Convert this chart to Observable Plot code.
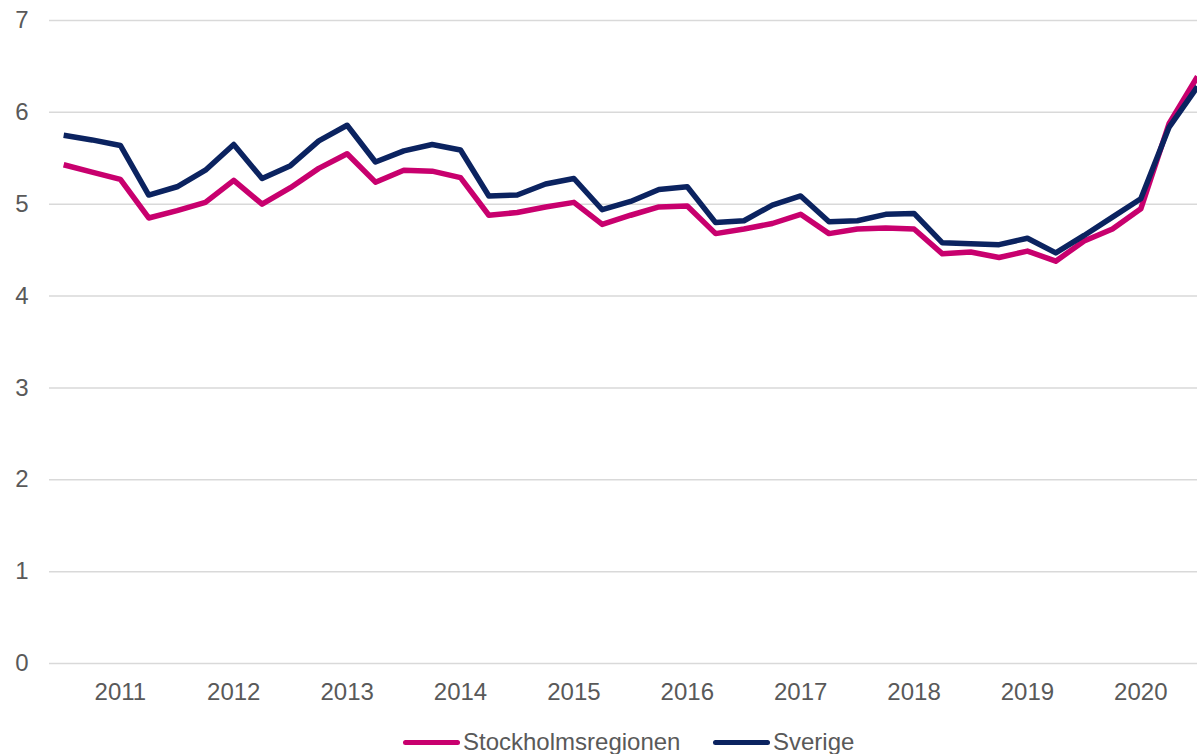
<!DOCTYPE html>
<html>
<head>
<meta charset="utf-8">
<script src="https://cdn.jsdelivr.net/npm/d3@7"></script>
<script src="https://cdn.jsdelivr.net/npm/@observablehq/plot@0.6"></script>
<style>
  html, body { margin: 0; padding: 0; background: #fff; }
  body { width: 1197px; height: 754px; overflow: hidden; font-family: "Liberation Sans", Arial, sans-serif; }
  #legend { position: relative; height: 34px; font-size: 24px; color: #595959; }
  .item { position: absolute; top: 10px; display: flex; align-items: center; line-height: 24px; white-space: nowrap; }
  .sw { width: 57px; height: 5px; border-radius: 3px; margin-right: 3px; }
</style>
</head>
<body>
<div id="chart"></div>
<div id="legend"></div>
<script>
// Quarters 2010K3 .. 2020K3
const quarters = [
  "2010K3","2010K4",
  "2011K1","2011K2","2011K3","2011K4",
  "2012K1","2012K2","2012K3","2012K4",
  "2013K1","2013K2","2013K3","2013K4",
  "2014K1","2014K2","2014K3","2014K4",
  "2015K1","2015K2","2015K3","2015K4",
  "2016K1","2016K2","2016K3","2016K4",
  "2017K1","2017K2","2017K3","2017K4",
  "2018K1","2018K2","2018K3","2018K4",
  "2019K1","2019K2","2019K3","2019K4",
  "2020K1","2020K2","2020K3"
];
const years = ["2011","2012","2013","2014","2015","2016","2017","2018","2019","2020"];
const seriesNames = ["Stockholmsregionen", "Sverige"];
const seriesColors = ["#c8006e", "#0b2360"];
const stockholm = [
  5.43,5.35,5.27,4.85,4.93,5.02,5.26,5.00,5.18,5.39,
  5.55,5.24,5.37,5.36,5.29,4.88,4.91,4.97,5.02,4.78,
  4.88,4.97,4.98,4.68,4.73,4.79,4.89,4.68,4.73,4.74,
  4.73,4.46,4.48,4.42,4.49,4.38,4.60,4.73,4.95,5.88,6.39
];
const sverige = [
  5.75,5.70,5.64,5.10,5.19,5.37,5.65,5.28,5.42,5.69,
  5.86,5.46,5.58,5.65,5.59,5.09,5.10,5.22,5.28,4.94,
  5.03,5.16,5.19,4.80,4.82,4.99,5.09,4.81,4.82,4.89,
  4.90,4.58,4.57,4.56,4.63,4.47,4.66,4.86,5.06,5.84,6.28
];
const yTicks = [0,1,2,3,4,5,6,7];

const values = [stockholm, sverige];
const data = [];
values.forEach((arr, s) => arr.forEach((v, i) => data.push({i, q: quarters[i], v, s: seriesNames[s]})));
const yearTickIdx = years.map(y => quarters.indexOf(y + "K1"));

const chart = Plot.plot({
  width: 1197,
  height: 720,
  marginLeft: 49,
  marginRight: 0,
  marginTop: 20,
  marginBottom: 57,
  style: { fontFamily: "'Liberation Sans', Arial, sans-serif", fontSize: "24px", color: "#595959", background: "#fff" },
  x: { domain: [-0.5, quarters.length - 1], label: null },
  y: { domain: [0, 7], label: null },
  color: { domain: seriesNames, range: seriesColors },
  marks: [
    Plot.ruleY(yTicks, { stroke: "#d9d9d9", strokeWidth: 1.5 }),
    Plot.axisY(yTicks, { tickSize: 0, tickPadding: 21, label: null, fill: "#595959", fontSize: 24,
      tickFormat: d => String(d) }),
    Plot.axisX(yearTickIdx, { tickSize: 0, tickPadding: 19, label: null, fill: "#595959", fontSize: 24,
      tickFormat: i => quarters[i].slice(0, 4) }),
    Plot.line(data, { x: "i", y: "v", z: "s", stroke: "s", strokeWidth: 5.5, strokeLinejoin: "round", strokeLinecap: "butt" })
  ]
});
document.getElementById("chart").appendChild(chart);

// Legend
const legend = document.getElementById("legend");
const lefts = [403, 713];
seriesNames.forEach((n, k) => {
  const it = document.createElement("div");
  it.className = "item";
  it.style.left = lefts[k] + "px";
  const sw = document.createElement("span");
  sw.className = "sw";
  sw.style.background = seriesColors[k];
  const t = document.createElement("span");
  t.textContent = n;
  it.appendChild(sw); it.appendChild(t);
  legend.appendChild(it);
});
</script>
</body>
</html>
